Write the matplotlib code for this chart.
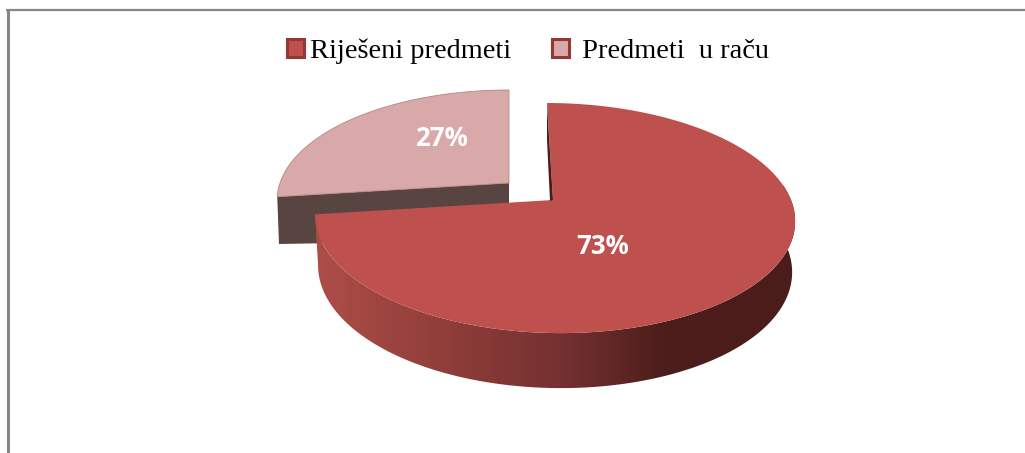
#!/usr/bin/env python3
# plot.py - 3D looking pie of resolved vs pending cases, axes in image pixels

import matplotlib
matplotlib.use("Agg")
import matplotlib.pyplot as plt
import numpy as np
from matplotlib.colors import LinearSegmentedColormap
from matplotlib.patches import Patch, Polygon

labels = ["Riješeni predmeti", " Predmeti  u raču"]
values = [73, 27]
face_colors = ["#BE504D", "#D8A9A8"]
edge_colors = ["#953735", "#953735"]


def project(theta, cx, cy, a, b, k=0.157, shear=0.0):
    """Perspective view of a point on the pie rim, theta in radians."""
    u, v = np.cos(theta), np.sin(theta)
    w = 1 + k * v
    return cx + shear * v + a * u / w, cy - b * v / w


def rim(start, end, n=240, **geom):
    th = np.linspace(start, end, n)
    return np.column_stack(project(th, **geom))


fig = plt.figure(figsize=(10.25, 4.53), dpi=100)
ax = fig.add_axes([0, 0, 1, 1])
ax.set_xlim(0, 1025)
ax.set_ylim(453, 0)
ax.axis("off")

# frame, only top and left show in the picture
ax.plot([7.5, 7.5], [9, 453], color="#868686", lw=2.2, solid_capstyle="butt")
ax.plot([6, 1025], [10, 10], color="#868686", lw=1.6, solid_capstyle="butt")

# angles follow the values, clockwise from 12 o'clock
split = np.pi / 2 - 2 * np.pi * values[0] / sum(values)
main_geom = dict(cx=554, cy=200, a=237, b=112.2, shear=-7)
small_geom = dict(cx=509, cy=183, a=229, b=107.6)

# small slice: cut face first, top after
small_rim = rim(np.pi / 2, split + 2 * np.pi, **small_geom)
left_end = small_rim[-1]
ax.add_patch(Polygon([left_end, (509, 183), (509, 240), (279, 244)],
                     closed=True, fc="#584542", ec="none", zorder=2))
ax.add_patch(Polygon(np.vstack([small_rim, [(509, 183)]]), closed=True,
                     fc=face_colors[1], ec="#B98585", lw=0.6, zorder=3))

# main slice: gradient wall clipped to the rim band
th = np.linspace(split, np.radians(8), 300)
upper = np.column_stack(project(th, **main_geom))
lower = np.column_stack(project(th, **{**main_geom, "a": 234}))
lower[:, 1] += 50 - 5 * np.sin(th)
wall = Polygon(np.vstack([upper, lower[::-1]]), closed=True, fc="none", ec="none")
ax.add_patch(wall)
wall_cmap = LinearSegmentedColormap.from_list(
    "wall",
    [(0.0, "#AE4D49"), (0.28, "#8E3D38"), (0.52, "#743030"),
     (0.72, "#4E1E1C"), (1.0, "#4A1C1A")],
)
grad = ax.imshow(np.linspace(0, 1, 256).reshape(1, -1), cmap=wall_cmap,
                 extent=(316, 795, 453, 0), aspect="auto", zorder=4)
grad.set_clip_path(wall)
ax.set_xlim(0, 1025)
ax.set_ylim(453, 0)

# thin dark cut face next to the gap
tip = (553, 200)
ax.add_patch(Polygon([(547, 105), (547, 140), (550, 201), tip], closed=True,
                     fc="#4A1C1A", ec="none", zorder=6))

main_rim = rim(np.pi / 2, split, **main_geom)
ax.add_patch(Polygon(np.vstack([main_rim, [tip]]), closed=True,
                     fc=face_colors[0], ec="none", zorder=5))

ax.text(441, 139, f"{values[1]}%", color="white", fontsize=18.5, fontweight="bold",
        family="Open Sans", ha="center", va="center", zorder=7)
ax.text(603, 247, f"{values[0]}%", color="white", fontsize=18.5, fontweight="bold",
        family="Open Sans", ha="center", va="center", zorder=7)

handles = [Patch(facecolor=f, edgecolor=e, linewidth=2.2)
           for f, e in zip(face_colors, edge_colors)]
ax.legend(handles, labels, ncol=2, frameon=False, loc="center",
          bbox_to_anchor=(528 / 1025, 1 - 51.5 / 453),
          prop={"family": "Liberation Serif", "size": 20.4},
          handlelength=0.6, handleheight=0.6, handletextpad=0.2,
          columnspacing=1.45, borderpad=0)

fig.savefig("out.png", dpi=100)
plt.close(fig)
